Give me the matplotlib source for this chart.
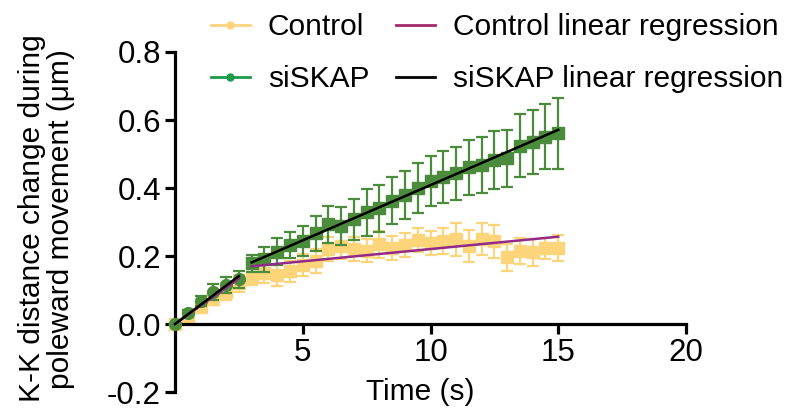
import numpy as np
import matplotlib
matplotlib.use("Agg")
import matplotlib.pyplot as plt
from matplotlib.lines import Line2D

plt.rcParams['font.family'] = ['Liberation Sans', 'DejaVu Sans']

# ---- data ----
t_phase1 = [0, 0.5, 1, 1.5, 2, 2.5]
t_phase2 = [3, 3.5, 4, 4.5, 5, 5.5, 6, 6.5, 7, 7.5, 8, 8.5, 9, 9.5, 10,
            10.5, 11, 11.5, 12, 12.5, 13, 13.5, 14, 14.5, 15]

control_p1 = [0, 0.02, 0.051, 0.075, 0.095, 0.12]
control_p1_err = [0, 0.01, 0.015, 0.02, 0.025, 0.025]
siskap_p1 = [0, 0.031, 0.068, 0.095, 0.115, 0.132]
siskap_p1_err = [0, 0.01, 0.015, 0.023, 0.024, 0.025]

control_p2 = [0.139, 0.15, 0.143, 0.155, 0.174, 0.185, 0.22, 0.23, 0.22, 0.216,
              0.235, 0.223, 0.232, 0.247, 0.239, 0.244, 0.249, 0.229, 0.25, 0.243,
              0.196, 0.215, 0.211, 0.223, 0.223]
control_p2_err = [0.025, 0.03, 0.03, 0.03, 0.032, 0.035, 0.035, 0.04, 0.035, 0.035,
                  0.04, 0.035, 0.035, 0.035, 0.036, 0.038, 0.048, 0.046, 0.047, 0.049,
                  0.039, 0.038, 0.039, 0.031, 0.039]
siskap_p2 = [0.178, 0.19, 0.213, 0.232, 0.244, 0.267, 0.293, 0.288, 0.308, 0.328,
             0.34, 0.362, 0.379, 0.4, 0.421, 0.433, 0.443, 0.461, 0.468, 0.482,
             0.487, 0.524, 0.535, 0.551, 0.561]
siskap_p2_err = [0.025, 0.037, 0.039, 0.039, 0.043, 0.051, 0.054, 0.055, 0.06, 0.069,
                 0.068, 0.069, 0.071, 0.074, 0.074, 0.076, 0.078, 0.081, 0.083, 0.085,
                 0.085, 0.093, 0.095, 0.096, 0.104]

# linear regression (slope, intercept) and x-ranges
control_fit1 = (0.0536, 0.0)
control_fit2 = (0.00725, 0.148)
siskap_fit1 = (0.0564, 0.0)
siskap_fit2 = (0.0325, 0.0835)
fit1_range = [0, 2.5]
fit2_range = [3, 15]

x_ticks = [5, 10, 15, 20]
y_ticks = [-0.2, 0.0, 0.2, 0.4, 0.6, 0.8]
y_ticklabels = ['-0.2', '0.0', '0.2', '0.4', '0.6', '0.8']

# ---- style ----
yellow = '#fcd47a'
green = '#4a8c3c'
magenta = '#922a88'
leg_yellow = '#fdd37c'
leg_green = '#1b9a4a'
leg_magenta = '#a2286e'
FS = 21.5
TFS = 22.5

fig = plt.figure(figsize=(8.06, 4.19), dpi=100)
ax = fig.add_axes([175/806, 27/419, 511/806, 340/419])

ekw = dict(elinewidth=1.6, capthick=1.6, capsize=4.3, linestyle='none', clip_on=False)
ax.errorbar(t_phase1, control_p1, yerr=control_p1_err, fmt='s', ms=8.5, color=yellow,
            ecolor=yellow, zorder=2, **ekw)
ax.errorbar(t_phase2, control_p2, yerr=control_p2_err, fmt='s', ms=8.5, color=yellow,
            ecolor=yellow, zorder=2, **ekw)
ax.errorbar(t_phase1, siskap_p1, yerr=siskap_p1_err, fmt='o', ms=8.5, color=green,
            ecolor=green, zorder=3, **ekw)
ax.errorbar(t_phase2, siskap_p2, yerr=siskap_p2_err, fmt='s', ms=8.5, color=green,
            ecolor=green, zorder=3, **ekw)

for (m, b), rng in [(control_fit1, fit1_range), (control_fit2, fit2_range)]:
    xs = np.array(rng)
    ax.plot(xs, m * xs + b, color=magenta, lw=1.8, zorder=5, clip_on=False)
for (m, b), rng in [(siskap_fit1, fit1_range), (siskap_fit2, fit2_range)]:
    xs = np.array(rng)
    ax.plot(xs, m * xs + b, color='black', lw=1.8, zorder=6, clip_on=False)

ax.set_xlim(0, 20)
ax.set_ylim(-0.2, 0.8)
ax.spines['top'].set_visible(False)
ax.spines['right'].set_visible(False)
ax.spines['bottom'].set_position(('data', 0))
ax.spines['left'].set_linewidth(2.3)
ax.spines['bottom'].set_linewidth(2.3)
ax.set_xticks(x_ticks)
ax.set_xticklabels([str(v) for v in x_ticks])
ax.set_yticks(y_ticks)
ax.set_yticklabels(y_ticklabels)
ax.tick_params(axis='both', which='major', direction='out', length=7, width=2.3,
               labelsize=TFS, pad=3)
ax.set_xlabel('Time (s)', fontsize=FS)
ax.xaxis.set_label_coords(0.48, 0.04)
ax.set_ylabel('K-K distance change during\npoleward movement (μm)', fontsize=FS,
              linespacing=1.05)
ax.yaxis.set_label_coords(-0.196, 0.51)

handles = [
    Line2D([], [], color=leg_yellow, lw=2, marker='o', ms=5),
    Line2D([], [], color=leg_green, lw=2, marker='o', ms=5),
    Line2D([], [], color=leg_magenta, lw=2),
    Line2D([], [], color='black', lw=2),
]
labels = ['Control', 'siSKAP', 'Control linear regression', 'siSKAP linear regression']
fig.legend(handles, labels, ncol=2, frameon=False, fontsize=FS,
           loc='upper left', bbox_to_anchor=(199/806, 0.997),
           handlelength=1.3, handletextpad=0.6, columnspacing=0.9,
           labelspacing=0.8, borderaxespad=0)

fig.savefig('out.png', dpi=100)
